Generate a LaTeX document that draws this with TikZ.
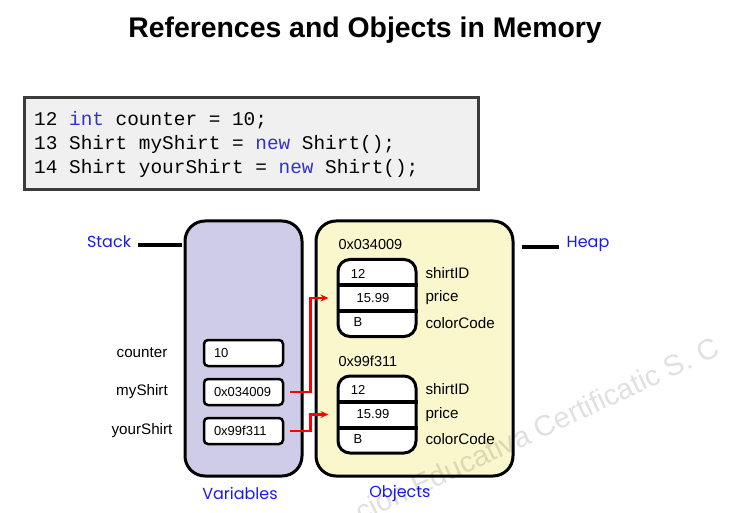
\documentclass[tikz,border=0pt]{standalone}
\usepackage{fontspec}
\setmainfont{Liberation Sans}
\setmonofont{Liberation Mono}
\newfontfamily\handfont{Poppins}
\usetikzlibrary{positioning,arrows.meta}
\definecolor{stackfill}{RGB}{207,204,232}
\definecolor{heapfill}{RGB}{250,247,204}
\definecolor{codefill}{RGB}{240,240,240}
\definecolor{codeedge}{RGB}{60,60,60}
\definecolor{keyblue}{RGB}{51,51,204}
\definecolor{handblue}{RGB}{25,25,240}
\newcommand{\fsz}[1]{\fontsize{#1}{#1}\selectfont}
\newcommand{\kw}[1]{\textcolor{keyblue}{#1}}

\tikzset{
  memarea/.style={draw, line width=3pt, rounded corners=20pt, minimum width=117pt, minimum height=255pt},
  valbox/.style={draw, line width=2.5pt, rounded corners=4pt, fill=white, minimum width=79pt, minimum height=26pt, text width=59pt, inner xsep=10pt, align=left, font=\fsz{13}},
  objbox/.style={draw, line width=3pt, rounded corners=12pt, fill=white, minimum width=78pt, minimum height=77pt},
  codeline/.style={anchor=west, font=\ttfamily\fsz{19.4}, inner sep=0pt},
  hand/.style={text=handblue, font=\handfont\fsz{16}},
  tagline/.style={line width=4pt},
  ptr/.style={draw=red, line width=2.5pt, -{Stealth[length=8pt,width=7pt]}},
  lab/.style={font=\fsz{15.2}},
}

\begin{document}
\begin{tikzpicture}[x=1pt, y=-1pt]
\useasboundingbox (0,0) rectangle (734,513);

\node[font=\bfseries\fsz{28.4}] (title) at (365,30) {References and Objects in Memory};

% code lines
\node[draw=codeedge, line width=3pt, fill=codefill, minimum width=454pt, minimum height=92pt] (code) at (251,144) {};
\node[codeline] (line12) at (34,120) {12 \kw{int} counter = 10;};
\node[codeline] (line13) at (34,144) {13 Shirt myShirt = \kw{new} Shirt();};
\node[codeline] (line14) at (34,168) {14 Shirt yourShirt = \kw{new} Shirt();};

% stack and heap
\node[memarea, fill=stackfill] (stack) at (243.5,348.5) {};
\node[memarea, fill=heapfill, minimum width=197pt] (heap) at (414.5,348.5) {};

\node[hand] (stacktag) at (109,242) {Stack};
\node[hand] (heaptag) at (588,244) {Heap};
\draw[tagline] ([xshift=3pt,yshift=-3pt]stacktag.east) -- ([xshift=-1.5pt,yshift=-3pt]stacktag.east -| stack.west);
\draw[tagline] ([xshift=7pt,yshift=-3pt]heaptag.west -| heap.east) -- ([xshift=-4pt,yshift=-3pt]heaptag.west);
\node[hand] (vartag) at (240,493) {Variables};
\node[hand] (objtag) at (400,493) {Objects};

% variables
\foreach \v/\y/\val in {counter/353/10, myShirt/392/0x034009, yourShirt/431/0x99f311} {
  \node[lab] (\v) at (142,\y) {\v};
  \node[valbox] (\v-val) at (243.5,\y) {\val};
}

% objects
\foreach \o/\y/\addr in {a/298/0x034009, b/414.5/0x99f311} {
  \node[objbox] (obj\o) at (377,\y) {};
  \node[lab, anchor=west, font=\fsz{14.5}] (addr\o) at (335,\y-53) {\addr};
  \node[font=\fsz{13}] (obj\o-id) at (358,\y-24.5) {12};
  \node[font=\fsz{13}] (obj\o-price) at (373,\y) {15.99};
  \node[font=\fsz{13}] (obj\o-code) at (358,\y+24.5) {B};
  \draw[line width=4pt] (obj\o.west |- 0,\y-12.5) -- (obj\o.east |- 0,\y-12.5);
  \draw[line width=4pt] (obj\o.west |- 0,\y+13) -- (obj\o.east |- 0,\y+13);
  \node[lab, anchor=west] at (422,\y-25) {shirtID};
  \node[lab, anchor=west] at (422,\y) {price};
  \node[lab, anchor=west] at (422,\y+25) {colorCode};
}

% references
\draw[ptr] ([xshift=6pt]myShirt-val.east) -- ++(20,0) |- ([xshift=-8pt]obja-price.west -| obja.west);
\draw[ptr] ([xshift=6pt]yourShirt-val.east) -- ++(20,0) |- ([xshift=-8pt]objb-price.west -| objb.west);

% watermark
\node[rotate=25, text=black, text opacity=0.12, font=\fsz{29}] (mark) at (537,429) {ción Educativa Certificatic S. C};
\end{tikzpicture}
\end{document}
